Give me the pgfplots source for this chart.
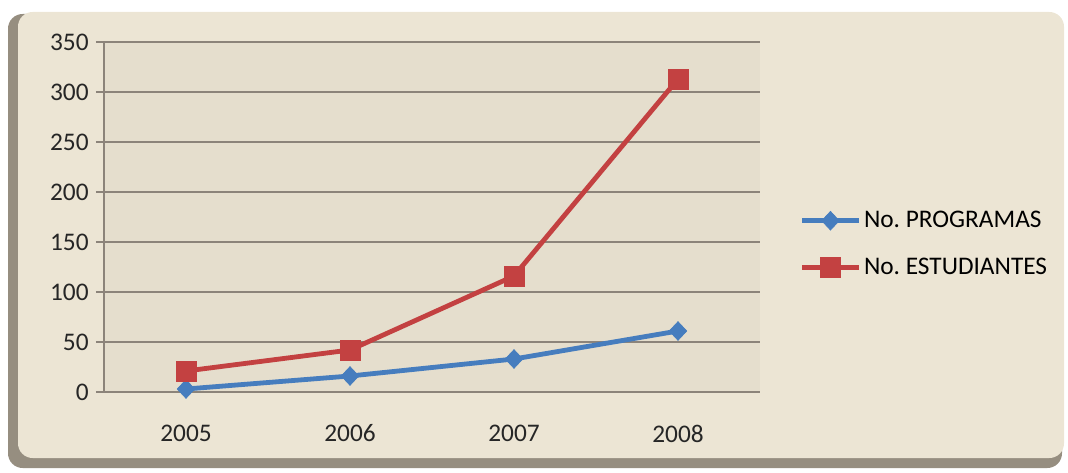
\documentclass[border=0pt]{standalone}
\usepackage{pgfplots}
\pgfplotsset{compat=1.18}
\usepackage{fontspec}
\setmainfont{Carlito}
\definecolor{panel}{RGB}{236,229,212}
\definecolor{plotbg}{RGB}{229,222,205}
\definecolor{shadow}{RGB}{150,142,128}
\definecolor{gridc}{RGB}{140,132,122}
\definecolor{serblue}{RGB}{70,125,190}
\definecolor{serred}{RGB}{195,65,65}
\begin{document}
\begin{tikzpicture}
\path[use as bounding box] (0,0) rectangle (801pt,354pt);
\fill[shadow,rounded corners=11pt] (6pt,3pt) rectangle (796.5pt,343.5pt);
\fill[panel,rounded corners=11pt] (13.5pt,10.5pt) rectangle (798pt,345pt);
\begin{axis}[
  at={(78pt,60pt)}, anchor=south west,
  scale only axis, width=492pt, height=262.5pt,
  xmin=-0.5, xmax=3.5, ymin=0, ymax=350,
  axis background/.style={fill=plotbg},
  axis x line*=bottom, axis y line*=left,
  axis line style={gridc, line width=0.8pt},
  xtick={0,1,2,3}, xticklabels={2005,2006,2007,2008},
  extra x ticks={-0.5,0.5,1.5,2.5,3.5}, extra x tick labels={},
  extra x tick style={major tick length=6pt, tick style={gridc, line width=0.8pt}, grid=none},
  major x tick style={draw=none},
  ytick={0,50,...,350},
  ymajorgrids, grid style={gridc, line width=0.8pt},
  major tick length=6pt, ytick style={gridc, line width=0.8pt},
  tick align=outside,
  /pgf/number format/assume math mode=true,
  tick label style={font=\fontsize{19}{22}\selectfont, text=black!85},
  xticklabel style={yshift=-15pt},
  yticklabel style={xshift=-2pt},
  legend style={at={(1.06,0.423)}, anchor=west, draw=none, fill=none,
    font=\fontsize{19}{22}\selectfont, row sep=17pt, inner sep=0pt},
  legend cell align=left,
  legend image code/.code={
    \draw[#1, mark=none] (0cm,0cm) -- (1.5cm,0cm);
    \path[#1, draw=none] plot coordinates {(0.75cm,0cm)};
  },
  clip=false,
]
\addplot[serblue, line width=3.6pt, mark=diamond*, mark size=7pt, mark options={solid, line width=0.5pt, xscale=1.25}]
  coordinates {(0,3) (1,16) (2,33) (3,61)};
\addlegendentry{No.\ PROGRAMAS}
\addplot[serred, line width=3.6pt, mark=square*, mark size=7.5pt, mark options={solid, line width=0.5pt}]
  coordinates {(0,21) (1,42) (2,116) (3,313)};
\addlegendentry{No.\ ESTUDIANTES}
\end{axis}
\end{tikzpicture}
\end{document}
